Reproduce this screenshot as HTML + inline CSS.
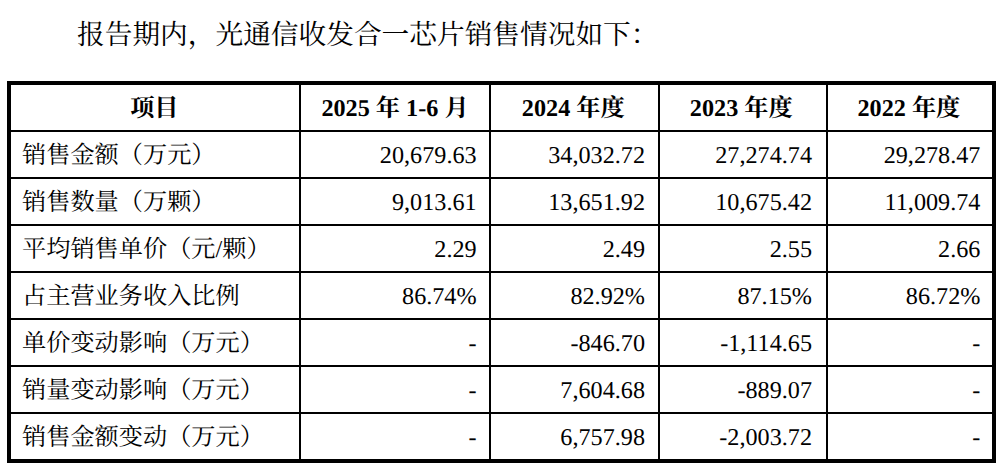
<!DOCTYPE html>
<html lang="zh-CN">
<head>
<meta charset="utf-8">
<title>光通信收发合一芯片销售情况</title>
<style>
  html, body { margin: 0; padding: 0; background: #fff; }
  body {
    width: 1002px; height: 466px; position: relative; overflow: hidden;
    font-family: "Liberation Serif", "Noto Serif CJK SC", serif; color: #000;
    text-rendering: geometricPrecision;
  }
  /* CJK run: fixed-size inline box (N em x 1.2em) holding the real text */
  .zh {
    position: relative; display: inline-block; height: 1.2em; line-height: 1.2em;
    vertical-align: -0.29em; overflow: hidden; white-space: nowrap;
    color: #000; font-weight: normal; text-align: left;
    font-family: "Liberation Serif", "Noto Serif CJK SC", serif;
  }
  th .zh { font-weight: bold; }
  p.lead {
    position: absolute; left: 77px; top: 16px; margin: 0;
    font-size: 27.7px; line-height: 36px; white-space: nowrap;
  }
  table {
    position: absolute; left: 7px; top: 81px; width: 989px;
    border: 4px solid #000; border-collapse: separate; border-spacing: 0;
    table-layout: fixed; font-size: 24.2px;
  }
  th, td {
    padding: 0; box-sizing: content-box;
    border-right: 2px solid #000; border-bottom: 2px solid #000;
    white-space: nowrap; overflow: hidden; line-height: 43px;
    font-weight: normal; vertical-align: middle;
    height: 43px; padding-top: 2px;
  }
  th { font-weight: bold; text-align: center; }
  td { text-align: right; }
  td.label { text-align: left; padding-left: 11px; }
  th:last-child, td:last-child { border-right: none; }
  tr:last-child td { border-bottom: none; }
  /* per-column cell margins (measured) */
  th:nth-child(1) { padding-right: 1.3px; }
  th:nth-child(3) { padding-right: 2.5px; }
  th:nth-child(4) { padding-right: 3.5px; }
  th:nth-child(5) { padding-right: 2.2px; }
  td:nth-child(2) { padding-right: 12.4px; }
  td:nth-child(3) { padding-right: 13px; }
  td:nth-child(4) { padding-right: 14px; }
  td:nth-child(5) { padding-right: 11.6px; }
</style>
</head>
<body>
<p class="lead"><span class="zh" style="width:21em">报告期内，光通信收发合一芯片销售情况如下：</span></p>
<table>
  <colgroup>
    <col style="width:290px"><col style="width:190px"><col style="width:169px"><col style="width:168px"><col style="width:164px">
  </colgroup>
  <thead>
    <tr><th><span class="zh" style="width:2em">项目</span></th><th>2025 <span class="zh" style="width:1em">年</span> 1-6 <span class="zh" style="width:1em">月</span></th><th>2024 <span class="zh" style="width:2em">年度</span></th><th>2023 <span class="zh" style="width:2em">年度</span></th><th>2022 <span class="zh" style="width:2em">年度</span></th></tr>
  </thead>
  <tbody>
    <tr><td class="label"><span class="zh" style="width:8em">销售金额（万元）</span></td><td>20,679.63</td><td>34,032.72</td><td>27,274.74</td><td>29,278.47</td></tr>
    <tr><td class="label"><span class="zh" style="width:8em">销售数量（万颗）</span></td><td>9,013.61</td><td>13,651.92</td><td>10,675.42</td><td>11,009.74</td></tr>
    <tr><td class="label"><span class="zh" style="width:8em">平均销售单价（元</span>/<span class="zh" style="width:2em">颗）</span></td><td>2.29</td><td>2.49</td><td>2.55</td><td>2.66</td></tr>
    <tr><td class="label"><span class="zh" style="width:9em">占主营业务收入比例</span></td><td>86.74%</td><td>82.92%</td><td>87.15%</td><td>86.72%</td></tr>
    <tr><td class="label"><span class="zh" style="width:10em">单价变动影响（万元）</span></td><td>-</td><td>-846.70</td><td>-1,114.65</td><td>-</td></tr>
    <tr><td class="label"><span class="zh" style="width:10em">销量变动影响（万元）</span></td><td>-</td><td>7,604.68</td><td>-889.07</td><td>-</td></tr>
    <tr><td class="label"><span class="zh" style="width:10em">销售金额变动（万元）</span></td><td>-</td><td>6,757.98</td><td>-2,003.72</td><td>-</td></tr>
  </tbody>
</table>
</body>
</html>
